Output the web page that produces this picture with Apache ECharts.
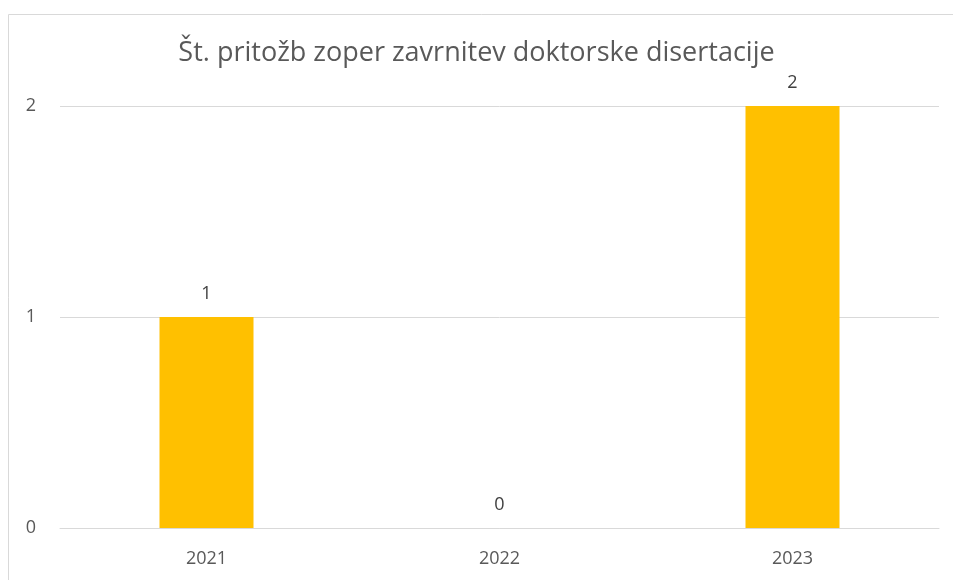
<!DOCTYPE html>
<html>
<head>
<meta charset="utf-8">
<script src="https://cdn.jsdelivr.net/npm/echarts@6/dist/echarts.min.js"></script>
<style>
  html, body { margin: 0; padding: 0; background: #fff; }
  #chart { width: 953px; height: 580px; }
</style>
</head>
<body>
<div id="chart"></div>
<script>
const chartTitle = 'Št. pritožb zoper zavrnitev doktorske disertacije'
const years = ['2021', '2022', '2023']
const complaints = [1, 0, 2]
const yTicks = [0, 1, 2]

const chart = echarts.init(document.getElementById('chart'))
const textColor = '#595959'
const fontFamily = 'Open Sans, Noto Sans, sans-serif'

chart.setOption({
  animation: false,
  graphic: [
    {
      // chart area frame (cut off on right and bottom)
      type: 'rect',
      shape: { x: 8.5, y: 14.5, width: 1000, height: 1000 },
      style: { fill: 'none', stroke: '#d9d9d9', lineWidth: 1 }
    }
  ],
  title: {
    text: chartTitle,
    left: 'center',
    top: 35,
    textStyle: {
      color: textColor,
      fontSize: 27,
      fontWeight: 'normal',
      fontFamily: fontFamily
    }
  },
  grid: {
    left: 60,
    right: 14,
    top: 106,
    bottom: 52
  },
  xAxis: {
    type: 'category',
    data: years,
    axisLine: { lineStyle: { color: '#d9d9d9' } },
    axisTick: { show: false },
    axisLabel: {
      color: textColor,
      fontSize: 18,
      fontFamily: fontFamily,
      margin: 22
    }
  },
  yAxis: {
    type: 'value',
    min: yTicks[0],
    max: yTicks[yTicks.length - 1],
    interval: 1,
    axisLine: { show: false },
    axisTick: { show: false },
    splitLine: { lineStyle: { color: '#d9d9d9' } },
    axisLabel: {
      color: textColor,
      fontSize: 18,
      fontFamily: fontFamily,
      margin: 24
    }
  },
  series: [
    {
      type: 'bar',
      data: complaints,
      barWidth: 94,
      itemStyle: { color: '#ffc000' },
      label: {
        show: true,
        position: 'top',
        distance: 14,
        color: '#404040',
        fontSize: 18,
        fontFamily: fontFamily
      }
    }
  ]
})
</script>
</body>
</html>
